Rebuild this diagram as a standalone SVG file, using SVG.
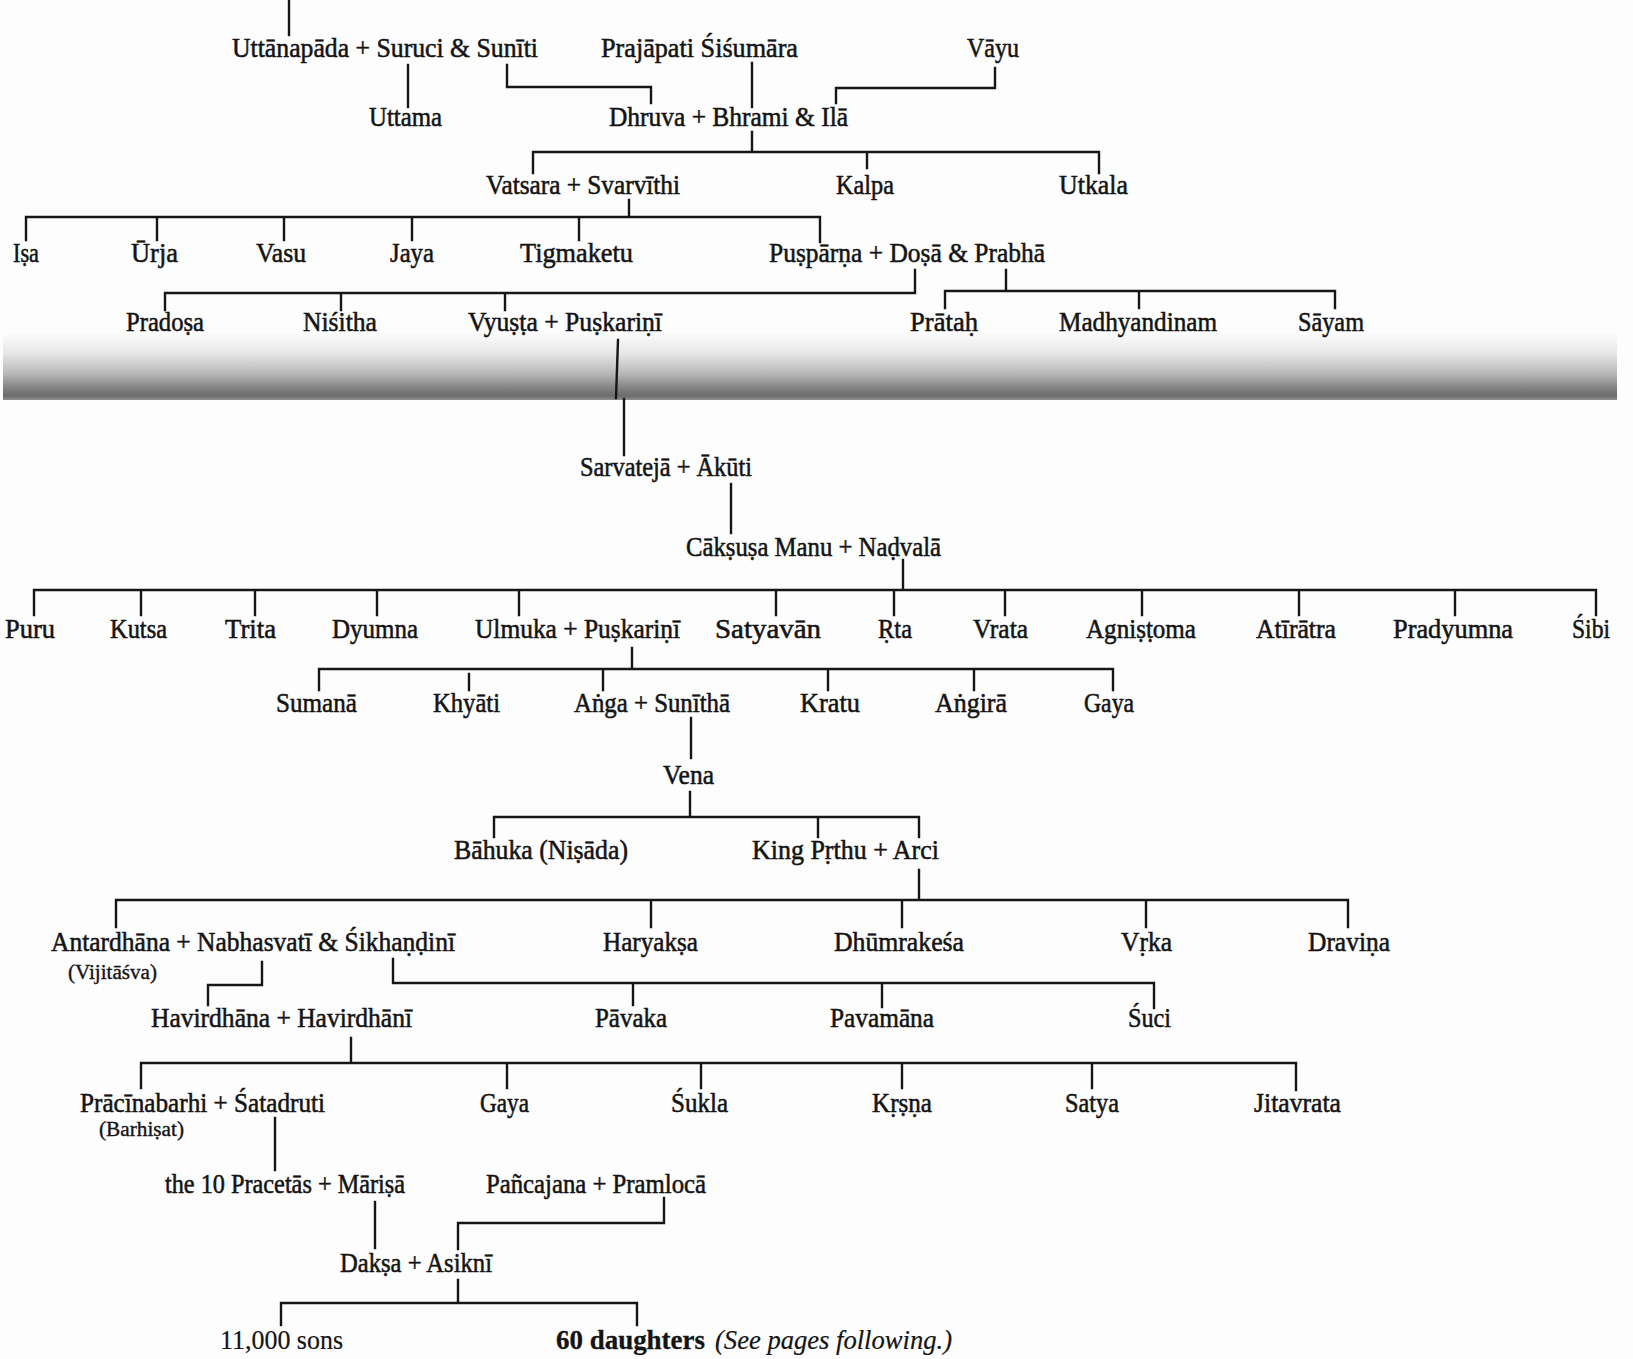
<svg xmlns="http://www.w3.org/2000/svg" width="1633" height="1359" viewBox="0 0 1633 1359">
<defs>
<linearGradient id="fold" x1="0" y1="0" x2="0" y2="1">
<stop offset="0" stop-color="#fbfbfb"/>
<stop offset="0.3" stop-color="#e6e6e6"/>
<stop offset="0.6" stop-color="#b8b8b8"/>
<stop offset="0.82" stop-color="#828282"/>
<stop offset="0.94" stop-color="#6c6c6c"/>
<stop offset="1" stop-color="#909090"/>
</linearGradient>
</defs>
<style>
text{font-family:"Liberation Serif","DejaVu Serif",serif;font-size:28px;fill:#141414;stroke:#141414;stroke-width:0.55}
.sm{font-size:20px;stroke-width:0.35}
.b{font-weight:bold;stroke-width:0.3}
.i{font-style:italic;stroke-width:0.2}
.lt{stroke-width:0.2}
#connectors path{fill:none;stroke:#161616;stroke-width:2.4;stroke-linecap:square}
</style>
<rect x="0" y="0" width="1633" height="1359" fill="#fdfdfd"/>
<rect x="3" y="334" width="1614" height="66" fill="url(#fold)"/>
<g id="connectors">
<path d="M289,0V35"/>
<path d="M408,65V107"/>
<path d="M507,65V87H651V103"/>
<path d="M752,63V107"/>
<path d="M995,68V88H836V103"/>
<path d="M752,132V152M533,173V152H1099V173M867,152V168"/>
<path d="M629,200V217M26,240V217H820V242M157,217V240M284,217V240M412,217V240M579,217V240"/>
<path d="M915,270V293H165V310M341,293V310M505,293V310"/>
<path d="M1006,270V291M945,308V291H1335V308M1139,291V308"/>
<path d="M618,340L616,398M624,399V455"/>
<path d="M731,484V533"/>
<path d="M903,560V590M34,615V590H1596V615M141,590V615M255,590V615M377,590V615M519,590V615M776,590V615M894,590V615M1005,590V615M1142,590V615M1299,590V615M1455,590V615"/>
<path d="M632,648V669M319,690V669H1113V690M469,674V690M603,669V690M828,669V690M974,669V690"/>
<path d="M691,718V758"/>
<path d="M690,792V817M494,837V817H919V837M818,817V837"/>
<path d="M919,870V900M116,927V900H1348V927M651,900V927M902,900V927M1146,900V927"/>
<path d="M262,962V985H208V1005"/>
<path d="M393,959V983H1154V1008M633,983V1005M882,983V1007"/>
<path d="M351,1038V1063M141,1088V1063H1296V1090M507,1063V1088M701,1063V1088M902,1063V1088M1092,1063V1088"/>
<path d="M275,1118V1170"/>
<path d="M375,1202V1248"/>
<path d="M664,1198V1223H458V1249"/>
<path d="M458,1280V1303M281,1325V1303H637V1325"/>
</g>
<g id="uttanapada"><text x="232" y="57" textLength="306" lengthAdjust="spacingAndGlyphs">Uttānapāda + Suruci &amp; Sunīti</text></g>
<g id="prajapati"><text x="601" y="57" textLength="197" lengthAdjust="spacingAndGlyphs">Prajāpati Śiśumāra</text></g>
<g id="vayu"><text x="967" y="57" textLength="52" lengthAdjust="spacingAndGlyphs">Vāyu</text></g>
<g id="uttama"><text x="369" y="126" textLength="73" lengthAdjust="spacingAndGlyphs">Uttama</text></g>
<g id="dhruva"><text x="609" y="126" textLength="239" lengthAdjust="spacingAndGlyphs">Dhruva + Bhrami &amp; Ilā</text></g>
<g id="vatsara"><text x="486" y="194" textLength="194" lengthAdjust="spacingAndGlyphs">Vatsara + Svarvīthi</text></g>
<g id="kalpa"><text x="836" y="194" textLength="58" lengthAdjust="spacingAndGlyphs">Kalpa</text></g>
<g id="utkala"><text x="1059" y="194" textLength="69" lengthAdjust="spacingAndGlyphs">Utkala</text></g>
<g id="isa"><text x="13" y="262" textLength="26" lengthAdjust="spacingAndGlyphs">Iṣa</text></g>
<g id="urja"><text x="131" y="262" textLength="47" lengthAdjust="spacingAndGlyphs">Ūrja</text></g>
<g id="vasu"><text x="256" y="262" textLength="50" lengthAdjust="spacingAndGlyphs">Vasu</text></g>
<g id="jaya"><text x="390" y="262" textLength="44" lengthAdjust="spacingAndGlyphs">Jaya</text></g>
<g id="tigmaketu"><text x="520" y="262" textLength="113" lengthAdjust="spacingAndGlyphs">Tigmaketu</text></g>
<g id="pusparna"><text x="769" y="262" textLength="276" lengthAdjust="spacingAndGlyphs">Puṣpārṇa + Doṣā &amp; Prabhā</text></g>
<g id="pradosa"><text x="126" y="331" textLength="78" lengthAdjust="spacingAndGlyphs">Pradoṣa</text></g>
<g id="nisitha"><text x="303" y="331" textLength="74" lengthAdjust="spacingAndGlyphs">Niśitha</text></g>
<g id="vyusta"><text x="468" y="331" textLength="194" lengthAdjust="spacingAndGlyphs">Vyuṣṭa + Puṣkariṇī</text></g>
<g id="pratah"><text x="910" y="331" textLength="68" lengthAdjust="spacingAndGlyphs">Prātaḥ</text></g>
<g id="madhyandinam"><text x="1059" y="331" textLength="158" lengthAdjust="spacingAndGlyphs">Madhyandinam</text></g>
<g id="sayam"><text x="1298" y="331" textLength="66" lengthAdjust="spacingAndGlyphs">Sāyam</text></g>
<g id="sarvateja"><text x="580" y="476" textLength="172" lengthAdjust="spacingAndGlyphs">Sarvatejā + Ākūti</text></g>
<g id="caksusa"><text x="686" y="556" textLength="255" lengthAdjust="spacingAndGlyphs">Cākṣuṣa Manu + Naḍvalā</text></g>
<g id="puru"><text x="5" y="638" textLength="50" lengthAdjust="spacingAndGlyphs">Puru</text></g>
<g id="kutsa"><text x="110" y="638" textLength="57" lengthAdjust="spacingAndGlyphs">Kutsa</text></g>
<g id="trita"><text x="225" y="638" textLength="51" lengthAdjust="spacingAndGlyphs">Trita</text></g>
<g id="dyumna"><text x="332" y="638" textLength="86" lengthAdjust="spacingAndGlyphs">Dyumna</text></g>
<g id="ulmuka"><text x="475" y="638" textLength="205" lengthAdjust="spacingAndGlyphs">Ulmuka + Puṣkariṇī</text></g>
<g id="satyavan"><text x="715" y="638" textLength="106" lengthAdjust="spacingAndGlyphs">Satyavān</text></g>
<g id="rta"><text x="878" y="638" textLength="34" lengthAdjust="spacingAndGlyphs">Ṛta</text></g>
<g id="vrata"><text x="973" y="638" textLength="55" lengthAdjust="spacingAndGlyphs">Vrata</text></g>
<g id="agnistoma"><text x="1086" y="638" textLength="110" lengthAdjust="spacingAndGlyphs">Agniṣṭoma</text></g>
<g id="atiratra"><text x="1256" y="638" textLength="80" lengthAdjust="spacingAndGlyphs">Atīrātra</text></g>
<g id="pradyumna"><text x="1393" y="638" textLength="120" lengthAdjust="spacingAndGlyphs">Pradyumna</text></g>
<g id="sibi"><text x="1572" y="638" textLength="38" lengthAdjust="spacingAndGlyphs">Śibi</text></g>
<g id="sumana"><text x="276" y="712" textLength="81" lengthAdjust="spacingAndGlyphs">Sumanā</text></g>
<g id="khyati"><text x="433" y="712" textLength="67" lengthAdjust="spacingAndGlyphs">Khyāti</text></g>
<g id="anga"><text x="574" y="712" textLength="156" lengthAdjust="spacingAndGlyphs">Aṅga + Sunīthā</text></g>
<g id="kratu"><text x="800" y="712" textLength="60" lengthAdjust="spacingAndGlyphs">Kratu</text></g>
<g id="angira"><text x="935" y="712" textLength="72" lengthAdjust="spacingAndGlyphs">Aṅgirā</text></g>
<g id="gaya1"><text x="1084" y="712" textLength="50" lengthAdjust="spacingAndGlyphs">Gaya</text></g>
<g id="vena"><text x="663" y="784" textLength="51" lengthAdjust="spacingAndGlyphs">Vena</text></g>
<g id="bahuka"><text x="454" y="859" textLength="174" lengthAdjust="spacingAndGlyphs">Bāhuka (Niṣāda)</text></g>
<g id="prthu"><text x="752" y="859" textLength="187" lengthAdjust="spacingAndGlyphs">King Pṛthu + Arci</text></g>
<g id="antardhana"><text x="51" y="951" textLength="404" lengthAdjust="spacingAndGlyphs">Antardhāna + Nabhasvatī &amp; Śikhaṇḍinī</text><text class="sm" x="68" y="979" textLength="89" lengthAdjust="spacingAndGlyphs">(Vijitāśva)</text></g>
<g id="haryaksa"><text x="603" y="951" textLength="95" lengthAdjust="spacingAndGlyphs">Haryakṣa</text></g>
<g id="dhumrakesa"><text x="834" y="951" textLength="130" lengthAdjust="spacingAndGlyphs">Dhūmrakeśa</text></g>
<g id="vrka"><text x="1121" y="951" textLength="51" lengthAdjust="spacingAndGlyphs">Vṛka</text></g>
<g id="dravina"><text x="1308" y="951" textLength="82" lengthAdjust="spacingAndGlyphs">Draviṇa</text></g>
<g id="havirdhana"><text x="151" y="1027" textLength="261" lengthAdjust="spacingAndGlyphs">Havirdhāna + Havirdhānī</text></g>
<g id="pavaka"><text x="595" y="1027" textLength="72" lengthAdjust="spacingAndGlyphs">Pāvaka</text></g>
<g id="pavamana"><text x="830" y="1027" textLength="104" lengthAdjust="spacingAndGlyphs">Pavamāna</text></g>
<g id="suci"><text x="1128" y="1027" textLength="43" lengthAdjust="spacingAndGlyphs">Śuci</text></g>
<g id="pracinabarhi"><text x="80" y="1112" textLength="245" lengthAdjust="spacingAndGlyphs">Prācīnabarhi + Śatadruti</text><text class="sm" x="99" y="1136" textLength="85" lengthAdjust="spacingAndGlyphs">(Barhiṣat)</text></g>
<g id="gaya2"><text x="480" y="1112" textLength="49" lengthAdjust="spacingAndGlyphs">Gaya</text></g>
<g id="sukla"><text x="671" y="1112" textLength="57" lengthAdjust="spacingAndGlyphs">Śukla</text></g>
<g id="krsna"><text x="872" y="1112" textLength="60" lengthAdjust="spacingAndGlyphs">Kṛṣṇa</text></g>
<g id="satya"><text x="1065" y="1112" textLength="54" lengthAdjust="spacingAndGlyphs">Satya</text></g>
<g id="jitavrata"><text x="1254" y="1112" textLength="87" lengthAdjust="spacingAndGlyphs">Jitavrata</text></g>
<g id="pracetas"><text x="165" y="1193" textLength="240" lengthAdjust="spacingAndGlyphs">the 10 Pracetās + Māriṣā</text></g>
<g id="pancajana"><text x="486" y="1193" textLength="220" lengthAdjust="spacingAndGlyphs">Pañcajana + Pramlocā</text></g>
<g id="daksa"><text x="340" y="1272" textLength="152" lengthAdjust="spacingAndGlyphs">Dakṣa + Asiknī</text></g>
<g id="sons"><text class="lt" x="220" y="1349" textLength="123" lengthAdjust="spacingAndGlyphs">11,000 sons</text></g>
<g id="daughters"><text class="b" x="556" y="1349" textLength="149" lengthAdjust="spacingAndGlyphs">60 daughters</text><text class="i" x="715" y="1349" textLength="237" lengthAdjust="spacingAndGlyphs">(See pages following.)</text></g>
</svg>
